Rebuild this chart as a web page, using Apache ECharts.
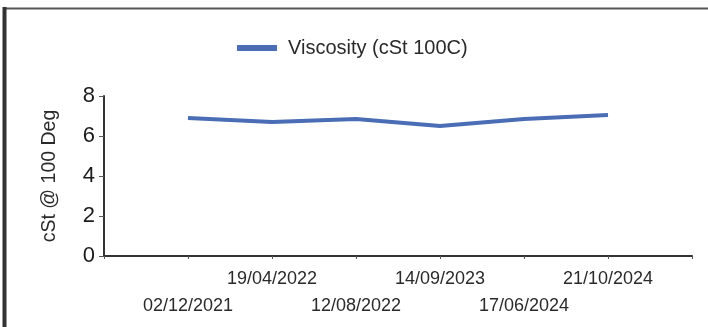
<!DOCTYPE html>
<html>
<head>
<meta charset="utf-8">
<script src="https://cdn.jsdelivr.net/npm/echarts@6/dist/echarts.min.js"></script>
<style>
html,body{margin:0;padding:0;background:#fff;}
#c{width:708px;height:327px;}
</style>
</head>
<body>
<div id="c"></div>
<script>
var categories = ['', '02/12/2021', '19/04/2022', '12/08/2022', '14/09/2023', '17/06/2024', '21/10/2024', ''];
var viscosity = [null, 6.9, 6.7, 6.85, 6.5, 6.85, 7.05, null];
var seriesName = 'Viscosity (cSt 100C)';
var yTicks = [0, 2, 4, 6, 8];

var chart = echarts.init(document.getElementById('c'), null, {renderer: 'canvas'});
var FONT = '"Liberation Sans", Arial, sans-serif';
chart.setOption({
  animation: false,
  backgroundColor: '#fff',
  graphic: [
    {type: 'line', shape: {x1: 5, y1: 8.5, x2: 708, y2: 8.5}, style: {stroke: '#555', lineWidth: 2}},
    {type: 'line', shape: {x1: 4.5, y1: 7, x2: 4.5, y2: 327}, style: {stroke: '#333', lineWidth: 4}}
  ],
  legend: {
    data: [{name: seriesName, icon: 'rect'}],
    left: 237,
    top: 38,
    padding: 0,
    itemWidth: 40,
    itemHeight: 6,
    textStyle: {fontFamily: FONT, fontSize: 20, color: '#2a2a2a', padding: [0, 0, 0, 6]}
  },
  grid: {left: 104, right: 16, top: 96, bottom: 71, containLabel: false},
  xAxis: {
    type: 'category',
    data: categories,
    boundaryGap: false,
    axisLine: {lineStyle: {color: '#333', width: 2}},
    axisTick: {show: true, alignWithLabel: true, length: 3, lineStyle: {color: '#555'}},
    axisLabel: {
      interval: 0,
      hideOverlap: false,
      margin: 10,
      fontFamily: FONT,
      fontSize: 18,
      color: '#2a2a2a',
      lineHeight: 27,
      formatter: function (v, i) { return (i % 2 === 1) ? '\n' + v : v; }
    },
    splitLine: {show: false}
  },
  yAxis: {
    type: 'value',
    min: 0,
    max: 8,
    interval: 2,
    name: 'cSt @ 100 Deg',
    nameLocation: 'middle',
    nameRotate: 90,
    nameGap: 44,
    nameTextStyle: {fontFamily: FONT, fontSize: 19.5, color: '#2a2a2a'},
    axisLine: {show: true, lineStyle: {color: '#333', width: 2}},
    axisTick: {show: true, length: 5, lineStyle: {color: '#555'}},
    axisLabel: {fontFamily: FONT, fontSize: 22, color: '#1a1a1a', margin: 9,
      formatter: function (v) { return yTicks.indexOf(v) >= 0 ? String(v) : ''; }},
    splitLine: {show: false}
  },
  series: [{
    name: seriesName,
    type: 'line',
    data: viscosity,
    symbol: 'none',
    connectNulls: false,
    lineStyle: {color: '#4a6db5', width: 4},
    itemStyle: {color: '#4a6db5'}
  }]
});
</script>
</body>
</html>
